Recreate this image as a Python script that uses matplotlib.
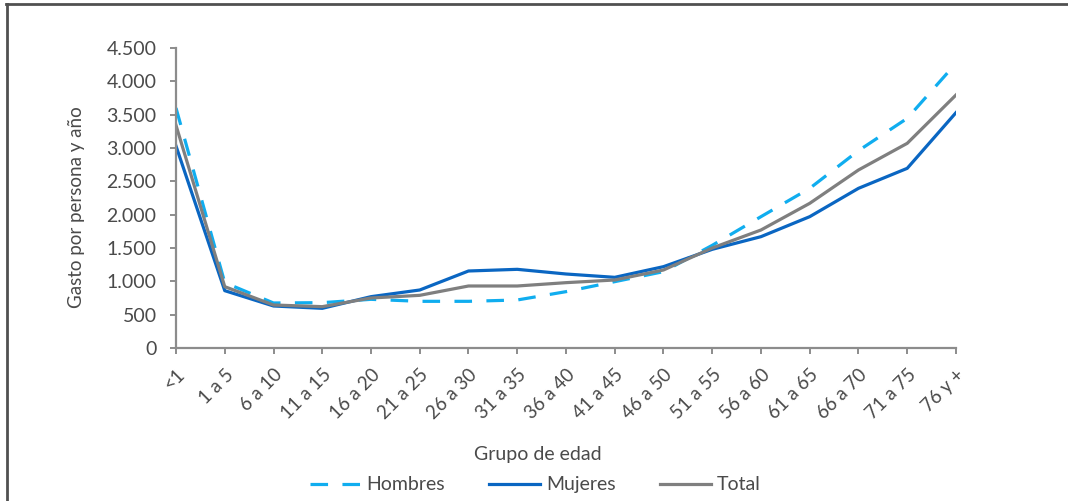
import matplotlib.pyplot as plt
from matplotlib.lines import Line2D
from matplotlib.ticker import FuncFormatter

plt.rcParams['font.family'] = ['Lato', 'DejaVu Sans']

grupos = ['<1', '1 a 5', '6 a 10', '11 a 15', '16 a 20', '21 a 25', '26 a 30',
          '31 a 35', '36 a 40', '41 a 45', '46 a 50', '51 a 55', '56 a 60',
          '61 a 65', '66 a 70', '71 a 75', '76 y +']

hombres = [3600, 980, 675, 680, 730, 700, 700, 720, 845, 995, 1145,
           1540, 1970, 2395, 2960, 3445, 4270]
mujeres = [3030, 860, 630, 595, 770, 870, 1155, 1180, 1110, 1060, 1220,
           1480, 1670, 1970, 2395, 2695, 3530]
total = [3340, 920, 645, 620, 750, 790, 930, 930, 980, 1020, 1170,
         1500, 1770, 2170, 2670, 3070, 3795]

TEXT = '#4a4a4a'
AXIS = '#8c8c8c'

fig = plt.figure(figsize=(10.68, 5.01), dpi=100)
ax = fig.add_axes([0.1648, 0.3054, 0.7303, 0.5988])

x = range(len(grupos))
ax.plot(x, hombres, color='#10adef', lw=2.3, dashes=(5.5, 4.5), label='Hombres')
ax.plot(x, mujeres, color='#0a66c2', lw=2.3, label='Mujeres')
ax.plot(x, total, color='#7f7f7f', lw=2.3, label='Total')

ax.set_xlim(0, len(grupos) - 1)
ax.set_ylim(0, 4500)
ax.set_yticks(range(0, 4501, 500))
ax.yaxis.set_major_formatter(FuncFormatter(lambda v, p: f'{int(v):,}'.replace(',', '.')))
ax.set_xticks(list(x))
ax.set_xticklabels(grupos, rotation=45, ha='right', rotation_mode='anchor')

for s in ['top', 'right']:
    ax.spines[s].set_visible(False)
for s in ['left', 'bottom']:
    ax.spines[s].set_color(AXIS)
    ax.spines[s].set_linewidth(1.6)
ax.tick_params(colors=AXIS, width=1.4, length=4, labelcolor=TEXT)
ax.tick_params(axis='y', labelsize=14, pad=10)
ax.tick_params(axis='x', labelsize=13.5, pad=9)

ax.set_ylabel('Gasto por persona y año', color=TEXT, fontsize=13.5)
ax.yaxis.set_label_coords(-0.117, 0.47)
fig.text(0.504, 0.092, 'Grupo de edad', color=TEXT, fontsize=14, ha='center', va='center')

leg = fig.legend(loc='center', bbox_to_anchor=(0.501, 0.032), ncol=3, frameon=False,
                 fontsize=14, handlelength=2.6, handletextpad=0.3, columnspacing=2.3)
for t in leg.get_texts():
    t.set_color(TEXT)

# marco superior e izquierdo
fig.add_artist(Line2D([0.0055, 1.0], [0.992, 0.992], transform=fig.transFigure, color='#505050', lw=2))
fig.add_artist(Line2D([0.0062, 0.0062], [0.0, 0.992], transform=fig.transFigure, color='#505050', lw=2))

fig.savefig('out.png', dpi=100)
